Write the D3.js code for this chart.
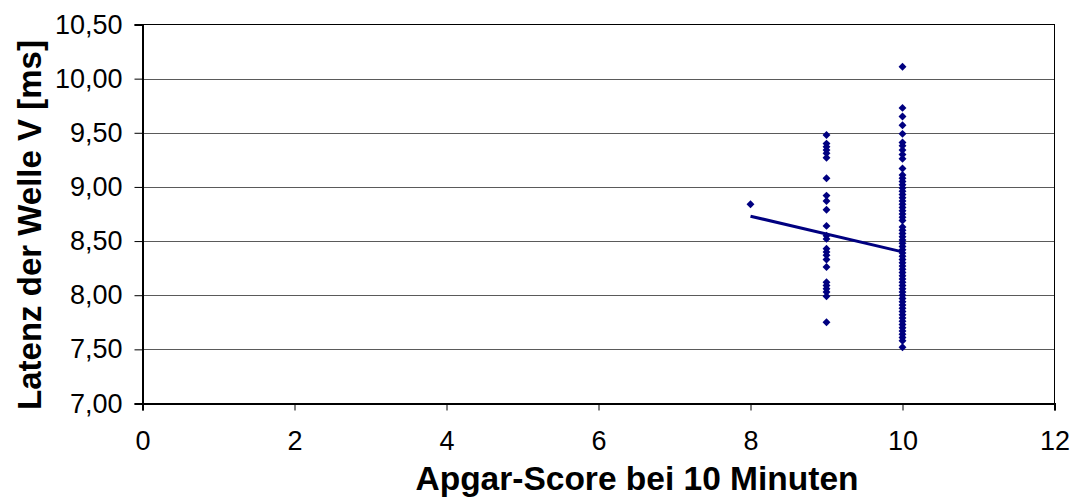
<!DOCTYPE html>
<html>
<head>
<meta charset="utf-8">
<script src="https://cdn.jsdelivr.net/npm/d3@7"></script>
<style>
  html, body { margin: 0; padding: 0; background: #fff; }
  svg { display: block; font-family: "Liberation Sans", Arial, sans-serif; }
</style>
</head>
<body>
<svg id="chart" width="1084" height="500"></svg>
<script>
// Apgar score at 10 minutes (x) vs. latency of wave V in ms (y)
const apgar8 = [8.84];
const apgar9 = [9.48, 9.40, 9.37, 9.34, 9.31, 9.27, 9.08, 8.92, 8.87, 8.79, 8.64, 8.55, 8.52,
                8.43, 8.40, 8.37, 8.33, 8.26, 8.12, 8.09, 8.06, 8.03, 7.99, 7.75];
const apgar10 = [10.11, 9.73, 9.65, 9.57, 9.49, 9.41, 9.38, 9.34, 9.30, 9.26, 9.17, 9.11, 9.08,
                 9.05, 9.02, 8.99, 8.96, 8.93, 8.90, 8.87, 8.84, 8.81, 8.78, 8.75, 8.72, 8.69,
                 8.63, 8.60, 8.57, 8.54, 8.51, 8.48, 8.45, 8.42, 8.39, 8.36, 8.33, 8.30, 8.27,
                 8.24, 8.21, 8.18, 8.15, 8.12, 8.09, 8.06, 8.03, 8.00, 7.97, 7.94, 7.91, 7.88,
                 7.85, 7.82, 7.79, 7.76, 7.73, 7.70, 7.67, 7.64, 7.61, 7.58, 7.52];

// linear trend line endpoints
const trendX = [8, 10];
const trendY = [8.73, 8.40];

const xTicks = [0, 2, 4, 6, 8, 10, 12];
const yTicks = [7.0, 7.5, 8.0, 8.5, 9.0, 9.5, 10.0, 10.5];

const xTitle = "Apgar-Score bei 10 Minuten";
const yTitle = "Latenz der Welle V [ms]";

const points = [
  ...apgar8.map(v => ({ x: 8, y: v })),
  ...apgar9.map(v => ({ x: 9, y: v })),
  ...apgar10.map(v => ({ x: 10, y: v }))
];

const svg = d3.select("#chart");
const plotLeft = 142.5, plotRight = 1054.5, plotTop = 24.5, plotBottom = 403.5;

const x = d3.scaleLinear().domain([0, 12]).range([plotLeft, plotRight]);
const y = d3.scaleLinear().domain([7, 10.5]).range([plotBottom, plotTop]);

const fmt = d => d3.format(".2f")(d).replace(".", ",");

// horizontal gridlines
svg.append("g")
  .selectAll("line")
  .data(yTicks.filter(t => t > 7 && t < 10.5))
  .join("line")
  .attr("x1", plotLeft).attr("x2", plotRight)
  .attr("y1", d => Math.round(y(d)) + 0.5).attr("y2", d => Math.round(y(d)) + 0.5)
  .attr("stroke", "#5a5a5a").attr("stroke-width", 1);

// plot frame
svg.append("rect")
  .attr("x", plotLeft).attr("y", plotTop)
  .attr("width", plotRight - plotLeft).attr("height", plotBottom - plotTop)
  .attr("fill", "none").attr("stroke", "#000").attr("stroke-width", 1);

// y axis
const yAxis = svg.append("g")
  .attr("transform", `translate(${plotLeft},0)`)
  .call(d3.axisLeft(y).tickValues(yTicks).tickFormat(fmt).tickSize(8).tickPadding(12));
yAxis.select(".domain").attr("stroke", "#000").attr("stroke-width", 2);
yAxis.selectAll(".tick line").attr("stroke", "#000").attr("stroke-width", 1);
yAxis.selectAll("text").attr("font-size", 27).attr("fill", "#000")
  .attr("font-family", "'Liberation Sans', Arial, sans-serif");

// x axis
const xAxis = svg.append("g")
  .attr("transform", `translate(0,${plotBottom})`)
  .call(d3.axisBottom(x).tickValues(xTicks).tickFormat(d3.format("d")).tickSize(7).tickPadding(20));
xAxis.select(".domain").attr("stroke", "#000").attr("stroke-width", 2);
xAxis.selectAll(".tick line").attr("stroke", "#000").attr("stroke-width", 1);
xAxis.selectAll("text").attr("font-size", 27).attr("fill", "#000")
  .attr("font-family", "'Liberation Sans', Arial, sans-serif");

// scatter points (diamonds)
svg.append("g")
  .selectAll("path")
  .data(points)
  .join("path")
  .attr("d", d3.symbol().type(d3.symbolDiamond2).size(40))
  .attr("transform", d => `translate(${x(d.x)},${y(d.y)})`)
  .attr("fill", "#000080");

// trend line
svg.append("path")
  .datum(trendX.map((v, i) => [v, trendY[i]]))
  .attr("d", d3.line().x(d => x(d[0])).y(d => y(d[1])))
  .attr("fill", "none").attr("stroke", "#000080").attr("stroke-width", 3);

// axis titles
svg.append("text")
  .attr("x", 637).attr("y", 490)
  .attr("text-anchor", "middle")
  .attr("font-size", 33.5).attr("font-weight", "bold")
  .text(xTitle);

svg.append("text")
  .attr("transform", "translate(41,225) rotate(-90)")
  .attr("text-anchor", "middle")
  .attr("font-size", 33).attr("font-weight", "bold")
  .text(yTitle);
</script>
</body>
</html>
